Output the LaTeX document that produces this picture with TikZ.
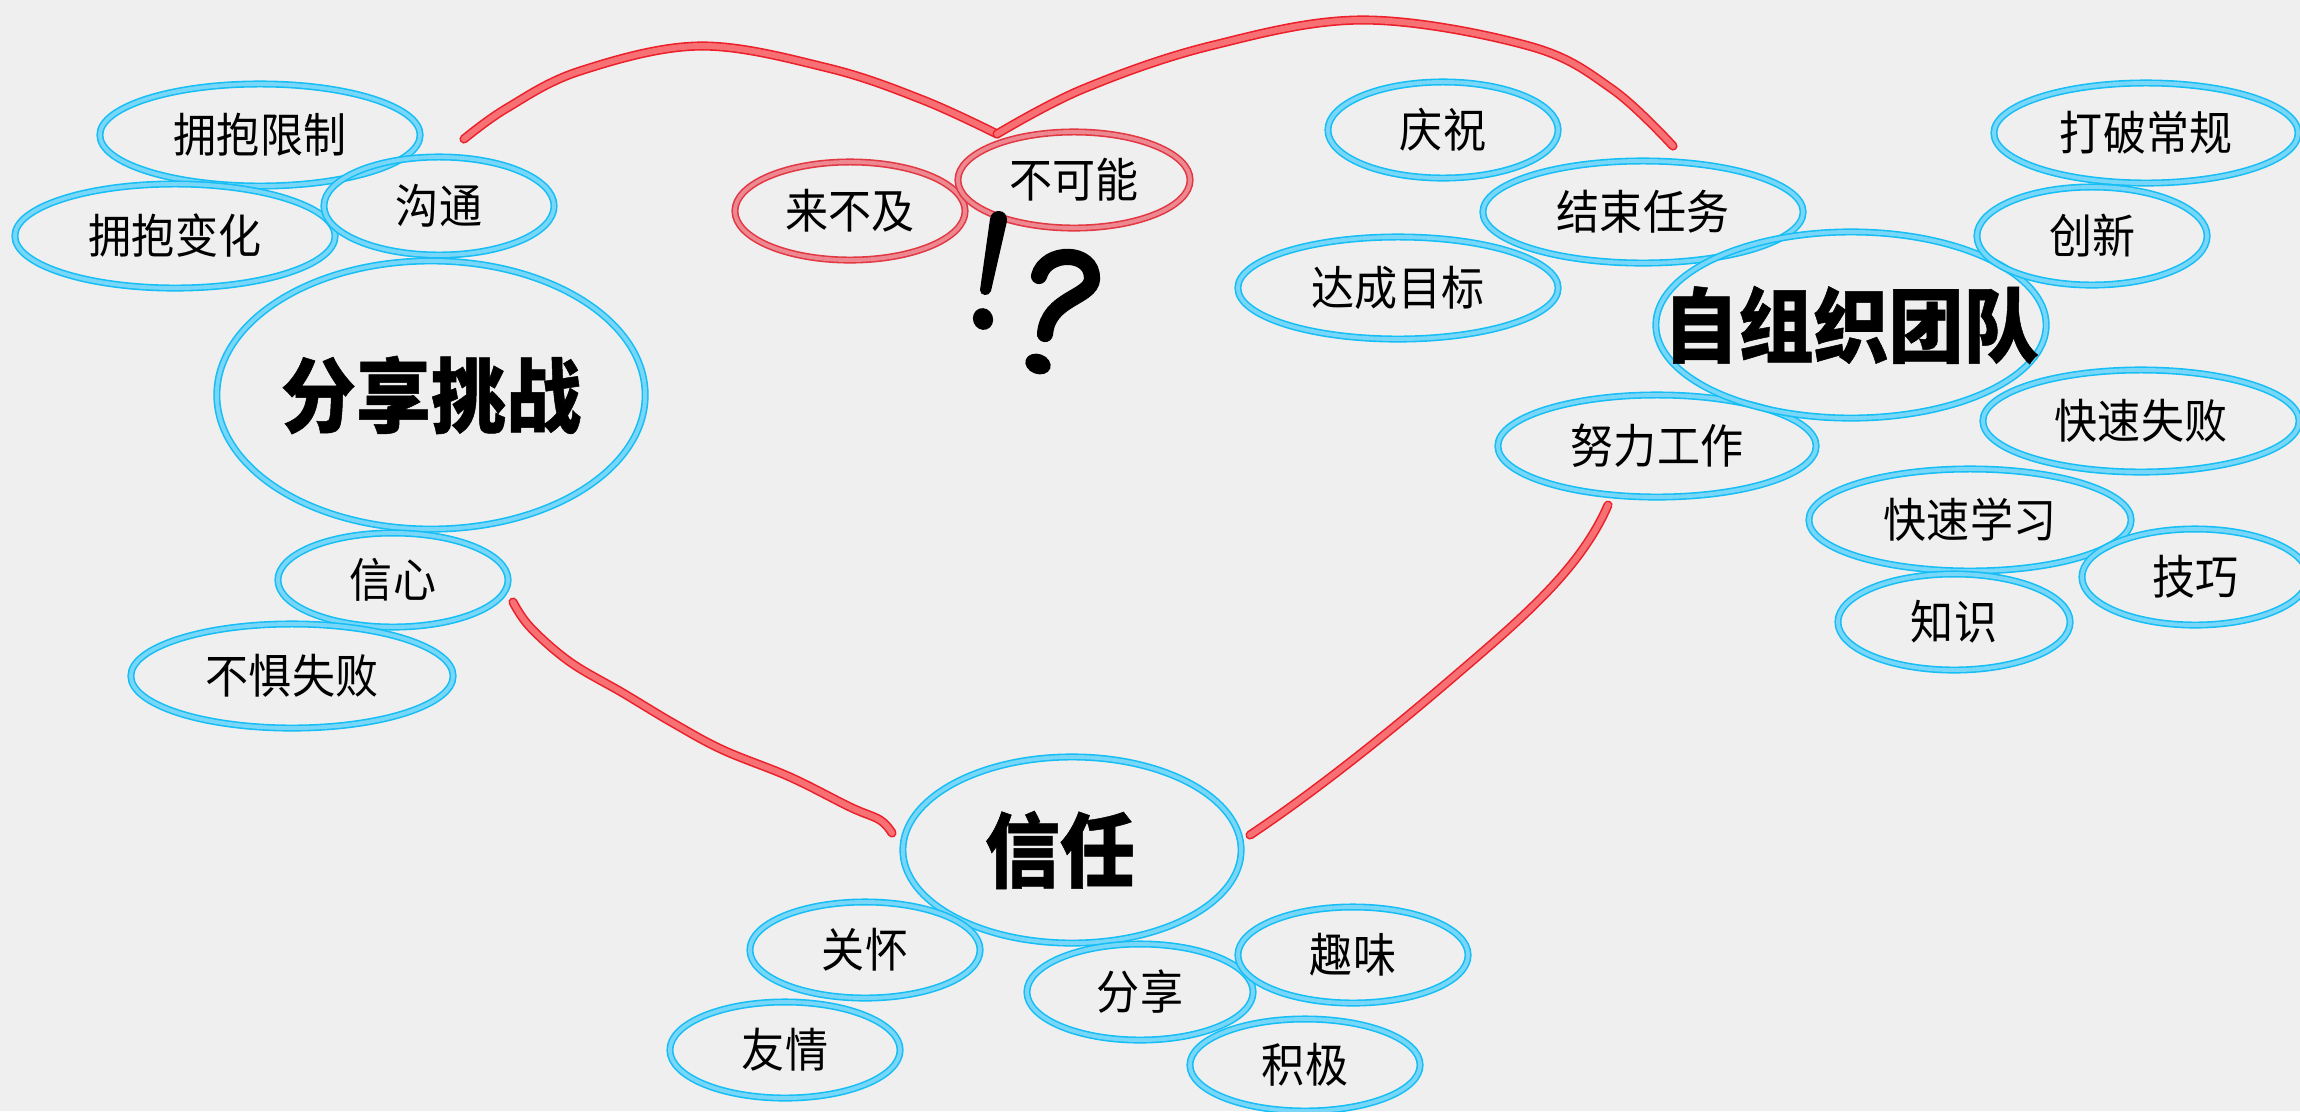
\documentclass[tikz,border=0pt]{standalone}
\usepackage{fontspec}
\newfontfamily\cjk[FakeStretch=0.92, BoldFeatures={FakeBold=0.6}]{Noto Sans CJK SC}
\usetikzlibrary{shapes.geometric}
\definecolor{bgc}{RGB}{239,239,239}
\definecolor{bluec}{RGB}{22,190,245}
\definecolor{bluel}{RGB}{120,215,248}
\definecolor{redc}{RGB}{226,56,68}
\definecolor{redl}{RGB}{238,136,144}
\definecolor{redh}{RGB}{236,32,42}
\definecolor{redhl}{RGB}{246,112,116}
\tikzset{
  bub/.style={ellipse, draw=bluec, line width=0.45pt, double=bluel, double distance=1.1pt,
    inner sep=0pt, text=black, font=\cjk\fontsize{13.3}{13.3}\selectfont},
  rbub/.style={bub, draw=redc, double=redl},
  big/.style={bub},
  bigtext/.style={text=black, inner sep=0pt, font=\cjk\bfseries\fontsize{23.2}{23.2}\selectfont},
  sz/.style 2 args={minimum width=#1*0.02cm, minimum height=#2*0.02cm},
  heart/.style={draw=redh, line width=0.45pt, double=redhl, double distance=1.7pt, line cap=round, line join=round},
  inkfill/.style={fill=black}
}
\begin{document}
\begin{tikzpicture}[x=0.01cm, y=-0.01cm]
\useasboundingbox (0,0) rectangle (2300,1111);
\fill[bgc] (0,0) rectangle (2300,1111);
\clip (0,0) rectangle (2300,1111);

% heart outline coordinates
\coordinate (hL) at (464,139);
\coordinate (hDip) at (997,134);
\coordinate (hR) at (1673,146);
\coordinate (lA) at (513,602);
\coordinate (lB) at (892,833);
\coordinate (rA) at (1608,505);
\coordinate (rB) at (1250,835);

\draw[heart] plot[smooth, tension=0.6] coordinates {(hL) (507,108) (580,71) (700,46) (828,68) (923,100) (hDip)};
\draw[heart] plot[smooth, tension=0.6] coordinates {(hDip) (1083,89) (1210,46) (1363,20) (1529,46) (1612,89) (hR)};
\draw[heart] plot[smooth, tension=0.6] coordinates {(lA) (530,627) (570,662) (623,693) (673,723) (723,750) (790,777) (850,807) (880,820) (lB)};
\draw[heart] (rA) .. controls (1580,570) and (1520,620) .. (1450,680) .. controls (1380,740) and (1310,795) .. (rB);

% left group
\node[bub, sz={160}{51}] (yongbaoxianzhi) at (260,135) {拥抱限制};
\node[bub, sz={160}{52}] (yongbaobianhua) at (175,236) {拥抱变化};
\node[bub, sz={115}{49}] (goutong) at (439,206) {沟通};
\node[big, sz={214}{134}, label={[bigtext]center:分享挑战}] (fenxiangtiaozhan) at (431,395) {};
\node[bub, sz={115}{47}] (xinxin) at (393,580) {信心};
\node[bub, sz={161}{52}] (bujushibai) at (292,676) {不惧失败};

% top middle
\node[rbub, sz={115}{49}] (laibuji) at (850,211) {来不及};
\node[rbub, sz={116}{48}] (bukeneng) at (1074,180) {不可能};

% !?
\fill[inkfill] (990,219) .. controls (991,208) and (1008,208) .. (1007,221) -- (991,291) .. controls (989,297) and (980,296) .. (980,290) -- cycle;
\fill[inkfill, rotate around={20:(983,319)}] (983,319) ellipse [x radius=10, y radius=11];
\draw[line width=4.6pt, line cap=round] (1039,276) .. controls (1046,250) and (1093,250) .. (1092,279) .. controls (1091,298) and (1048,298) .. (1045,334);
\fill[inkfill, rotate around={-20:(1038,364)}] (1038,364) ellipse [x radius=13, y radius=10];

% right group
\node[bub, sz={115}{48}] (qingzhu) at (1443,130) {庆祝};
\node[bub, sz={160}{51}] (dacheng) at (1398,288) {达成目标};
\node[bub, sz={160}{51}] (jieshu) at (1643,212) {结束任务};
\node[bub, sz={159}{51}] (nuli) at (1657,446) {努力工作};
\node[big, sz={195}{93}, label={[bigtext]center:自组织团队}] (zizuzhi) at (1851,325) {};
\node[bub, sz={152}{50}] (dapo) at (2146,133) {打破常规};
\node[bub, sz={115}{49}] (chuangxin) at (2092,236) {创新};
\node[bub, sz={158}{51}] (kuaisushibai) at (2141,421) {快速失败};
\node[bub, sz={161}{51}] (kuaisuxuexi) at (1970,520) {快速学习};
\node[bub, sz={113}{48}] (jiqiao) at (2195,577) {技巧};
\node[bub, sz={116}{48}] (zhishi) at (1954,622) {知识};

% bottom group
\node[big, sz={169}{93}, label={[bigtext, xshift=-0.12cm]center:信任}] (xinren) at (1072,850) {};
\node[bub, sz={115}{48}] (guanhuai) at (865,950) {关怀};
\node[bub, sz={115}{48}] (youqing) at (785,1050) {友情};
\node[bub, sz={113}{48}] (fenxiang) at (1140,992) {分享};
\node[bub, sz={115}{48}] (quwei) at (1353,955) {趣味};
\node[bub, sz={115}{46}] (jiji) at (1305,1065) {积极};
\end{tikzpicture}
\end{document}
